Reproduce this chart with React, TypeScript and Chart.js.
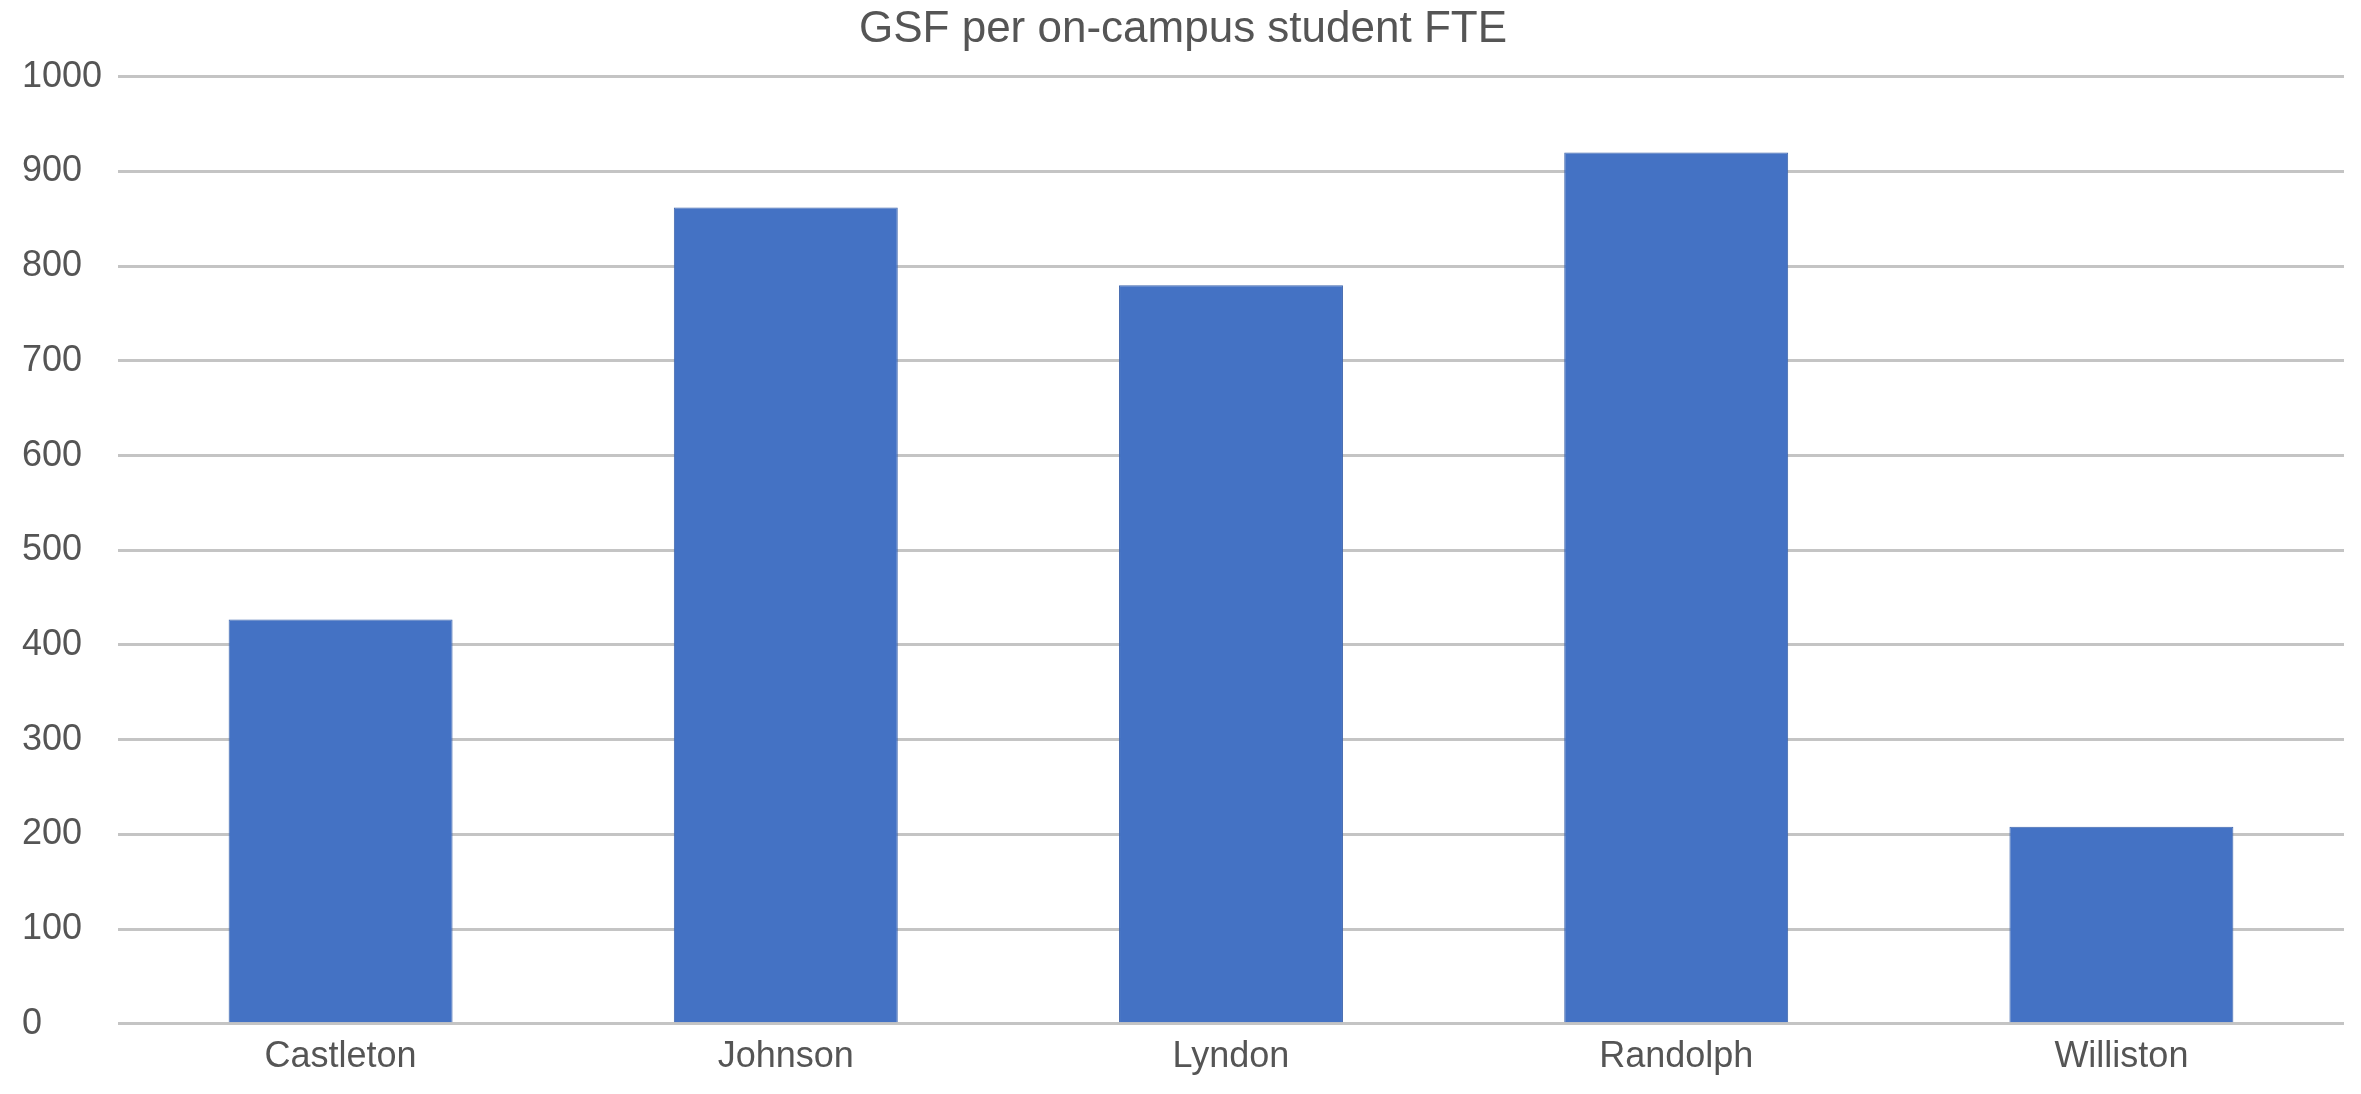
import React, { useEffect, useRef } from "react";
import { Chart, registerables } from "chart.js";

Chart.register(...registerables);

const campuses: string[] = ["Castleton", "Johnson", "Lyndon", "Randolph", "Williston"];
const gsfPerFte: number[] = [427, 862, 780, 920, 208];
const chartTitle = "GSF per on-campus student FTE";
const yMin = 0;
const yMax = 1000;
const yStep = 100;

const W = 2361;
const H = 1094;

export default function App() {
  const ref = useRef<HTMLCanvasElement | null>(null);

  useEffect(() => {
    const canvas = ref.current;
    if (!canvas) return;
    const chart = new Chart(canvas, {
      type: "bar",
      data: {
        labels: campuses,
        datasets: [
          {
            label: chartTitle,
            data: gsfPerFte,
            backgroundColor: "#4472c4",
            borderColor: "#3f66ad",
            borderWidth: 1,
            categoryPercentage: 1,
            barPercentage: 0.503,
          },
        ],
      },
      options: {
        responsive: false,
        animation: false,
        devicePixelRatio: 1,
        layout: { padding: { left: 22, right: 17, top: 0, bottom: 3 } },
        plugins: {
          legend: { display: false },
          tooltip: { enabled: false },
          title: {
            display: true,
            text: chartTitle,
            color: "#555555",
            font: { family: "'Liberation Sans', Arial, sans-serif", size: 44, weight: "normal" },
            padding: { top: 3, bottom: 21 },
          },
        },
        scales: {
          x: {
            grid: { display: false, drawTicks: false },
            border: { display: false },
            ticks: {
              color: "#555555",
              padding: 12,
              font: { family: "'Liberation Sans', Arial, sans-serif", size: 36 },
            },
          },
          y: {
            min: yMin,
            max: yMax,
            grid: { color: "#c4c4c4", lineWidth: 3, drawTicks: false },
            border: { display: false },
            ticks: {
              stepSize: yStep,
              color: "#555555",
              crossAlign: "far",
              padding: 0,
              font: { family: "'Liberation Sans', Arial, sans-serif", size: 36 },
              callback: (v: any) => String(v),
            },
            afterFit: (scale: any) => {
              scale.width = 96;
            },
          },
        },
      },
    });
    return () => chart.destroy();
  }, []);

  return (
    <div style={{ position: "fixed", left: 0, top: 0, width: W + "px", height: H + "px", background: "#ffffff" }}>
      <canvas ref={ref} width={W} height={H} style={{ width: W + "px", height: H + "px", display: "block" }} />
    </div>
  );
}
